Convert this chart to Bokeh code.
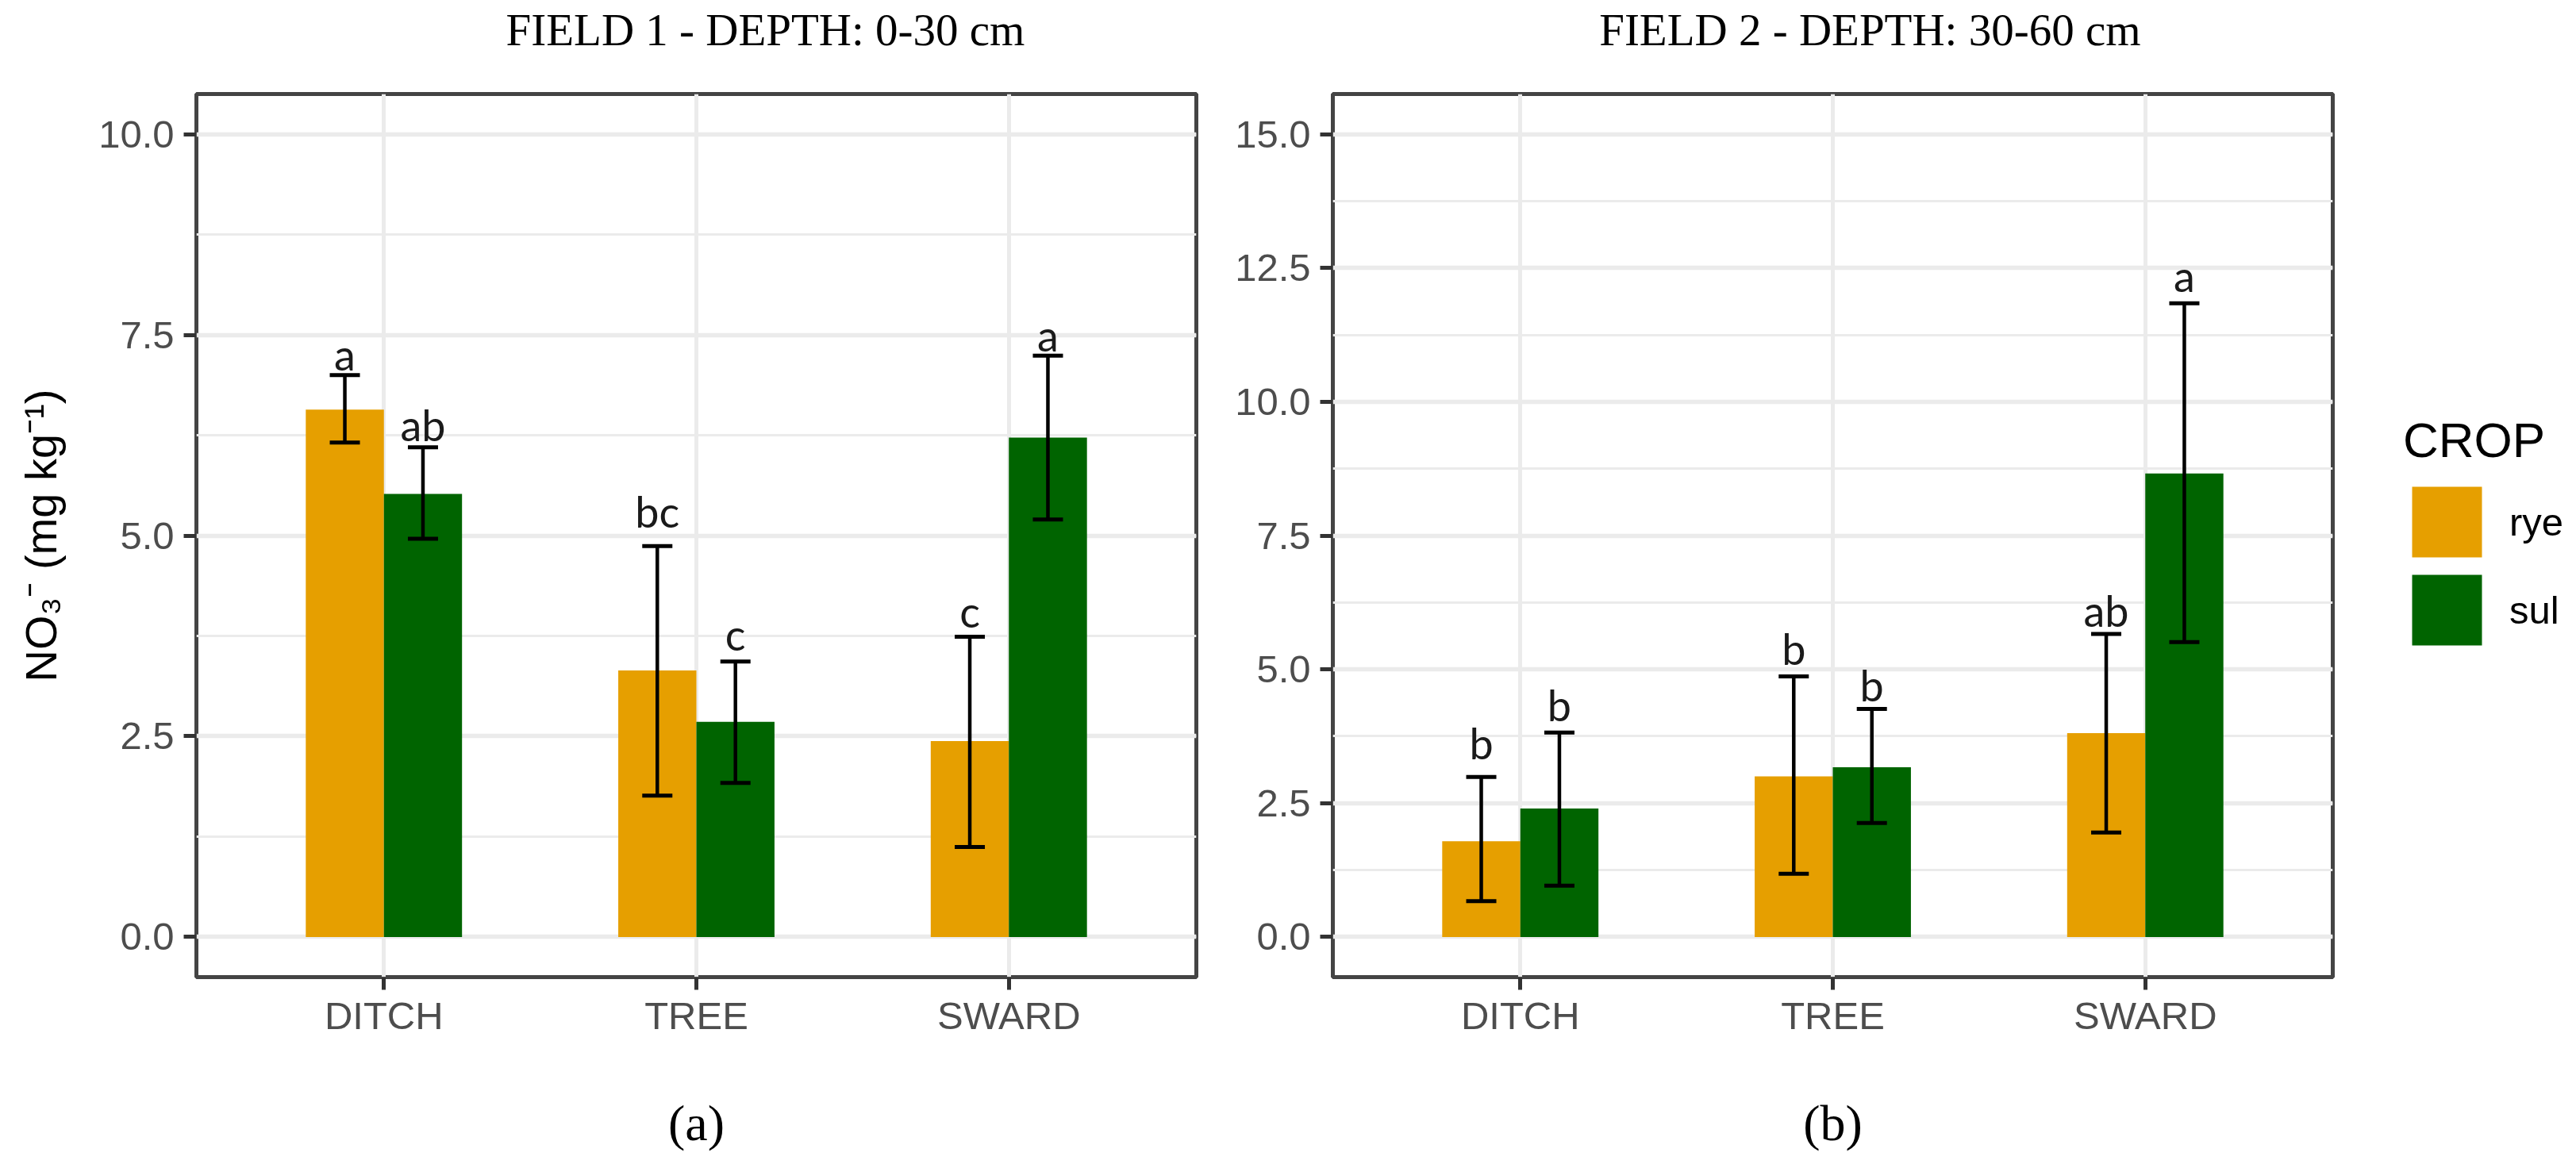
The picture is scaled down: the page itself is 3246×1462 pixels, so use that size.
from bokeh.plotting import figure
from bokeh.models import (Range1d, FixedTicker, SingleIntervalTicker, PrintfTickFormatter,
                          ColumnDataSource, Whisker, TeeHead, Legend, LegendItem, LinearAxis)
from bokeh.transform import dodge
from bokeh.layouts import row
from bokeh.embed import file_html
from bokeh.resources import INLINE
from bokeh.core.properties import value

# ---------------- data ----------------
categories = ["DITCH", "TREE", "SWARD"]
crops = ["rye", "sul"]
crop_colors = ["#E69F00", "#006400"]
y_label = "NO\u2083\u207b (mg kg\u207b\u00b9)"
legend_title = "CROP"

f1_title = "FIELD 1 - DEPTH: 0-30 cm"
f1_caption = "(a)"
f1_ylim = [0.0, 10.0]
f1_rye = [6.57, 3.32, 2.44]
f1_rye_lo = [6.16, 1.76, 1.12]
f1_rye_hi = [7.00, 4.87, 3.74]
f1_sul = [5.52, 2.68, 6.22]
f1_sul_lo = [4.96, 1.92, 5.20]
f1_sul_hi = [6.10, 3.43, 7.24]
f1_rye_letters = ["a", "bc", "c"]
f1_sul_letters = ["ab", "c", "a"]
f1_rye_letter_y = [7.26, 5.30, 4.06]
f1_sul_letter_y = [6.38, 3.77, 7.50]

f2_title = "FIELD 2 - DEPTH: 30-60 cm"
f2_caption = "(b)"
f2_ylim = [0.0, 15.0]
f2_rye = [1.79, 3.00, 3.81]
f2_rye_lo = [0.67, 1.18, 1.95]
f2_rye_hi = [2.99, 4.87, 5.66]
f2_sul = [2.40, 3.17, 8.66]
f2_sul_lo = [0.96, 2.13, 5.51]
f2_sul_hi = [3.82, 4.26, 11.84]
f2_rye_letters = ["b", "b", "ab"]
f2_sul_letters = ["b", "b", "a"]
f2_rye_letter_y = [3.62, 5.39, 6.10]
f2_sul_letter_y = [4.33, 4.70, 12.35]

# ---------------- style ----------------
SANS = "Liberation Sans"
SERIF = "Liberation Serif"
GRID = "#EBEBEB"
BORDER = "#444444"
TICK_COL = "#333333"
TICKLAB = "#4D4D4D"
BAR_W = 0.25
FIG_H = 1462


def make_panel(width, bl, br, ylim, rye, rye_lo, rye_hi, sul, sul_lo, sul_hi,
               rl, sl, rly, sly, title, title_x, caption):
    pad = 0.05 * (ylim[1] - ylim[0])
    p = figure(width=width, height=FIG_H,
               x_range=Range1d(0.4, 3.6),
               y_range=Range1d(ylim[0] - pad, ylim[1] + pad),
               output_backend="svg", toolbar_location=None,
               min_border_left=bl, min_border_right=br,
               min_border_top=118, min_border_bottom=FIG_H - 1231)
    p.background_fill_color = "white"
    p.border_fill_color = "white"
    p.outline_line_color = BORDER
    p.outline_line_width = 5

    src = ColumnDataSource(dict(
        x=[1, 2, 3], cat=categories,
        rye=rye, rye_lo=rye_lo, rye_hi=rye_hi,
        sul=sul, sul_lo=sul_lo, sul_hi=sul_hi,
        rl=rl, sl=sl, rly=rly, sly=sly))

    xr = dodge("x", -BAR_W / 2, range=p.x_range)
    xs = dodge("x", BAR_W / 2, range=p.x_range)

    p.vbar(x=xr, top="rye", bottom=0, width=BAR_W, source=src,
           fill_color=crop_colors[0], line_color=None)
    p.vbar(x=xs, top="sul", bottom=0, width=BAR_W, source=src,
           fill_color=crop_colors[1], line_color=None)

    for base, up, lo in ((xr, "rye_hi", "rye_lo"), (xs, "sul_hi", "sul_lo")):
        w = Whisker(base=base, upper=up, lower=lo, source=src,
                    line_color="black", line_width=4.5, level="overlay",
                    upper_head=TeeHead(size=38, line_width=5, line_color="black"),
                    lower_head=TeeHead(size=38, line_width=5, line_color="black"))
        p.add_layout(w)

    for xx, yy, tt in ((xr, "rly", "rl"), (xs, "sly", "sl")):
        p.text(x=xx, y=yy, text=tt, source=src, text_align="center",
               text_baseline="alphabetic", text_font=value("Lato"),
               text_font_size="54px", text_color="#1a1a1a")

    # axes
    p.xaxis.ticker = FixedTicker(ticks=[1, 2, 3])
    p.xaxis.major_label_overrides = {i + 1: c for i, c in enumerate(categories)}
    p.yaxis.ticker = SingleIntervalTicker(interval=2.5, num_minor_ticks=2)
    p.yaxis.formatter = PrintfTickFormatter(format="%.1f")
    p.axis.axis_line_color = None
    p.axis.major_tick_line_color = TICK_COL
    p.axis.major_tick_line_width = 5
    p.axis.major_tick_out = 16
    p.axis.major_tick_in = 0
    p.axis.minor_tick_line_color = None
    p.axis.major_label_text_font = SANS
    p.axis.major_label_text_font_size = "49px"
    p.axis.major_label_text_color = TICKLAB
    p.xaxis.major_label_standoff = 5
    p.yaxis.major_label_standoff = 12

    # caption under the panel, carried by the x axis title
    p.xaxis.axis_label = caption
    p.xaxis.axis_label_text_font = SERIF
    p.xaxis.axis_label_text_font_size = "64px"
    p.xaxis.axis_label_text_font_style = "normal"
    p.xaxis.axis_label_text_color = "black"
    p.xaxis.axis_label_standoff = 70

    # grid
    p.xgrid.grid_line_color = GRID
    p.xgrid.grid_line_width = 5
    p.ygrid.grid_line_color = GRID
    p.ygrid.grid_line_width = 5.5
    p.ygrid.minor_grid_line_color = GRID
    p.ygrid.minor_grid_line_width = 3

    # panel heading, set above the frame on a bare top axis
    top = LinearAxis(ticker=FixedTicker(ticks=[title_x]),
                     major_label_overrides={title_x: title},
                     axis_line_color=None, major_tick_line_color=None,
                     minor_tick_line_color=None, major_tick_out=0, major_tick_in=0,
                     major_label_standoff=50, major_label_text_font=SERIF,
                     major_label_text_font_size="57px",
                     major_label_text_color="black")
    p.add_layout(top, "above")
    return p, src


p1, src1 = make_panel(1540, 247, 33, f1_ylim, f1_rye, f1_rye_lo, f1_rye_hi,
                      f1_sul, f1_sul_lo, f1_sul_hi, f1_rye_letters, f1_sul_letters,
                      f1_rye_letter_y, f1_sul_letter_y, f1_title, 2.221, f1_caption)
p1.yaxis.axis_label = y_label
p1.yaxis.axis_label_text_font = SANS
p1.yaxis.axis_label_text_font_size = "56px"
p1.yaxis.axis_label_text_font_style = "normal"
p1.yaxis.axis_label_text_color = "black"
p1.yaxis.axis_label_standoff = 38

p2, src2 = make_panel(1409, 139, 10, f2_ylim, f2_rye, f2_rye_lo, f2_rye_hi,
                      f2_sul, f2_sul_lo, f2_sul_hi, f2_rye_letters, f2_sul_letters,
                      f2_rye_letter_y, f2_sul_letter_y, f2_title, 2.119, f2_caption)

# legend strip to the right of panel (b); its key renderers lie outside the visible ranges
p3 = figure(width=3246 - 1540 - 1409, height=FIG_H,
            x_range=Range1d(-30, -29), y_range=Range1d(-30, -29),
            output_backend="svg", toolbar_location=None, min_border=0,
            x_axis_type=None, y_axis_type=None)
p3.outline_line_color = None
p3.background_fill_color = "white"
p3.border_fill_color = "white"

items = []
for crop, col in zip(crops, crop_colors):
    r = p3.vbar(x="x", top=crop, bottom=0, width=BAR_W, source=src2,
                fill_color=col, line_color=None)
    items.append(LegendItem(label=crop, renderers=[r]))
legend = Legend(items=items, location=(79, 1231 - 824), title=legend_title,
                title_text_font=SANS, title_text_font_size="62px",
                title_text_font_style="normal", title_text_color="black",
                title_standoff=12,
                label_text_font=SANS, label_text_font_size="49px",
                label_text_color="black",
                glyph_width=110, glyph_height=111, spacing=-12, label_standoff=24,
                padding=0, margin=0, border_line_color=None,
                background_fill_alpha=0)
p3.add_layout(legend)

layout = row(p1, p2, p3)
open("out.html", "w").write(file_html(layout, INLINE))
